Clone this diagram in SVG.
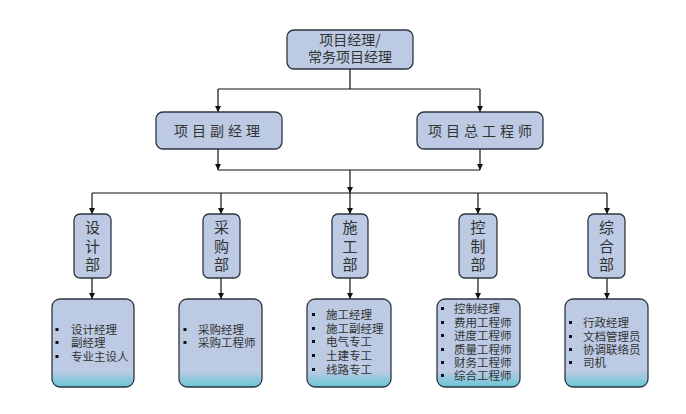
<svg xmlns="http://www.w3.org/2000/svg" width="686" height="414" viewBox="0 0 686 414">
<defs>
<marker id="arr" viewBox="0 0 8 8" refX="8" refY="4" markerWidth="6" markerHeight="6" orient="auto" markerUnits="userSpaceOnUse">
<path d="M0,0 L8,4 L0,8 z" fill="#111"/>
</marker>
<linearGradient id="lg" x1="0" y1="0" x2="0" y2="1">
<stop offset="0" stop-color="#bccae3"/>
<stop offset="0.82" stop-color="#bccae3"/>
<stop offset="1" stop-color="#66c6d6"/>
</linearGradient>
<style>
.box{fill:#bccae3;stroke:#2f3540;stroke-width:1.3}
.lbox{fill:url(#lg);stroke:#2f3540;stroke-width:1.3}
.t{font-family:"Noto Sans CJK SC","Noto Sans CJK JP",sans-serif;fill:#333;}
.big{font-size:14px}
.dept{font-size:15px;text-anchor:middle}
.li{font-size:11.5px}
.b{fill:#111}
.c{stroke:#111;stroke-width:1.2;fill:none}
</style>
</defs>
<rect width="686" height="414" fill="#fff"/>
<g id="connectors">
<path class="c" d="M350,69 V89 M218,89 H480"/>
<path class="c" d="M218,89 V112" marker-end="url(#arr)"/>
<path class="c" d="M480,89 V112" marker-end="url(#arr)"/>
<path class="c" d="M218,149 V170" marker-end="url(#arr)"/>
<path class="c" d="M480,149 V170" marker-end="url(#arr)"/>
<path class="c" d="M218,170 H480"/>
<path class="c" d="M350,170 V193" marker-end="url(#arr)"/>
<path class="c" d="M92,193 H607"/>
<path class="c" d="M92,193 V214" marker-end="url(#arr)"/>
<path class="c" d="M221,193 V214" marker-end="url(#arr)"/>
<path class="c" d="M350,193 V214" marker-end="url(#arr)"/>
<path class="c" d="M478,193 V214" marker-end="url(#arr)"/>
<path class="c" d="M607,193 V214" marker-end="url(#arr)"/>
<path class="c" d="M92,278 V299" marker-end="url(#arr)"/>
<path class="c" d="M221,278 V299" marker-end="url(#arr)"/>
<path class="c" d="M350,278 V299" marker-end="url(#arr)"/>
<path class="c" d="M478,278 V299" marker-end="url(#arr)"/>
<path class="c" d="M607,278 V299" marker-end="url(#arr)"/>
</g>
<g id="pm">
<rect class="box" x="287" y="30" width="126" height="39" rx="7"/>
<text class="t big" x="350" y="45" text-anchor="middle">项目经理/</text>
<text class="t big" x="350" y="62" text-anchor="middle">常务项目经理</text>
</g>
<g id="deputy">
<rect class="box" x="156" y="112" width="126" height="37" rx="7"/>
<text class="t big" x="219" y="136" text-anchor="middle" letter-spacing="4">项目副经理</text>
</g>
<g id="chief">
<rect class="box" x="417" y="112" width="126" height="37" rx="7"/>
<text class="t big" x="482" y="136" text-anchor="middle" letter-spacing="4">项目总工程师</text>
</g>
<g id="d1">
<rect class="box" x="74" y="214" width="37" height="64" rx="6"/>
<text class="t dept" x="92.5" y="233">设</text>
<text class="t dept" x="92.5" y="252">计</text>
<text class="t dept" x="92.5" y="270">部</text>
</g>
<g id="d2">
<rect class="box" x="203" y="214" width="37" height="64" rx="6"/>
<text class="t dept" x="221.5" y="233">采</text>
<text class="t dept" x="221.5" y="252">购</text>
<text class="t dept" x="221.5" y="270">部</text>
</g>
<g id="d3">
<rect class="box" x="332" y="214" width="36" height="64" rx="6"/>
<text class="t dept" x="350" y="233">施</text>
<text class="t dept" x="350" y="252">工</text>
<text class="t dept" x="350" y="270">部</text>
</g>
<g id="d4">
<rect class="box" x="459" y="214" width="38" height="64" rx="6"/>
<text class="t dept" x="478" y="233">控</text>
<text class="t dept" x="478" y="252">制</text>
<text class="t dept" x="478" y="270">部</text>
</g>
<g id="d5">
<rect class="box" x="588" y="214" width="37" height="64" rx="6"/>
<text class="t dept" x="606.5" y="233">综</text>
<text class="t dept" x="606.5" y="252">合</text>
<text class="t dept" x="606.5" y="270">部</text>
</g>
<g id="l1">
<rect class="lbox" x="52" y="299" width="82" height="88" rx="8"/>
<rect class="b" x="55.5" y="328" width="3" height="3"/>
<rect class="b" x="55.5" y="341" width="3" height="3"/>
<rect class="b" x="55.5" y="355" width="3" height="3"/>
<text class="t li" x="71" y="334">设计经理</text>
<text class="t li" x="71" y="347">副经理</text>
<text class="t li" x="71" y="361">专业主设人</text>
</g>
<g id="l2">
<rect class="lbox" x="179" y="299" width="83" height="88" rx="8"/>
<rect class="b" x="183.5" y="328" width="3" height="3"/>
<rect class="b" x="183.5" y="341" width="3" height="3"/>
<text class="t li" x="198" y="334">采购经理</text>
<text class="t li" x="198" y="347">采购工程师</text>
</g>
<g id="l3">
<rect class="lbox" x="307" y="299" width="84" height="88" rx="8"/>
<rect class="b" x="312" y="313" width="3" height="3"/>
<rect class="b" x="312" y="327" width="3" height="3"/>
<rect class="b" x="312" y="340" width="3" height="3"/>
<rect class="b" x="312" y="354" width="3" height="3"/>
<rect class="b" x="312" y="368" width="3" height="3"/>
<text class="t li" x="326" y="319">施工经理</text>
<text class="t li" x="326" y="333">施工副经理</text>
<text class="t li" x="326" y="346">电气专工</text>
<text class="t li" x="326" y="360">土建专工</text>
<text class="t li" x="326" y="374">线路专工</text>
</g>
<g id="l4">
<rect class="lbox" x="437" y="299" width="83" height="88" rx="8"/>
<rect class="b" x="441" y="307" width="3" height="3"/>
<rect class="b" x="441" y="321" width="3" height="3"/>
<rect class="b" x="441" y="334" width="3" height="3"/>
<rect class="b" x="441" y="348" width="3" height="3"/>
<rect class="b" x="441" y="361" width="3" height="3"/>
<rect class="b" x="441" y="374" width="3" height="3"/>
<text class="t li" x="454" y="313">控制经理</text>
<text class="t li" x="454" y="327">费用工程师</text>
<text class="t li" x="454" y="340">进度工程师</text>
<text class="t li" x="454" y="354">质量工程师</text>
<text class="t li" x="454" y="367">财务工程师</text>
<text class="t li" x="454" y="380">综合工程师</text>
</g>
<g id="l5">
<rect class="lbox" x="565" y="299" width="83" height="88" rx="8"/>
<rect class="b" x="569" y="321" width="3" height="3"/>
<rect class="b" x="569" y="335" width="3" height="3"/>
<rect class="b" x="569" y="348" width="3" height="3"/>
<rect class="b" x="569" y="361" width="3" height="3"/>
<text class="t li" x="583" y="327">行政经理</text>
<text class="t li" x="583" y="341">文档管理员</text>
<text class="t li" x="583" y="354">协调联络员</text>
<text class="t li" x="583" y="367">司机</text>
</g>
</svg>
